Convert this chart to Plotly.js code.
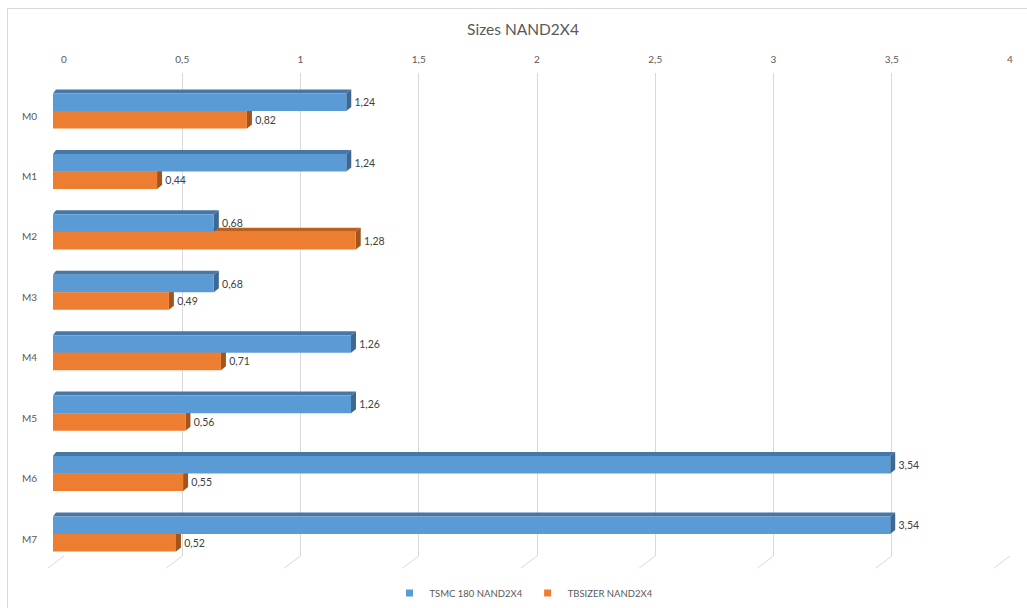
<!DOCTYPE html>
<html>
<head>
<meta charset="utf-8">
<script src="https://cdn.plot.ly/plotly-3.0.1.min.js"></script>
<style>
  html, body { margin: 0; padding: 0; background: #ffffff; }
  #chart { width: 1027px; height: 608px; }
</style>
</head>
<body>
<div id="chart"></div>
<script>
// Transistor sizes for the NAND2X4 cell
const categories = ['M0', 'M1', 'M2', 'M3', 'M4', 'M5', 'M6', 'M7'];
const tsmcSizes = [1.24, 1.24, 0.68, 0.68, 1.26, 1.26, 3.54, 3.54];
const tbsizerSizes = [0.82, 0.44, 1.28, 0.49, 0.71, 0.56, 0.55, 0.52];
const seriesNames = ['TSMC 180 NAND2X4', 'TBSIZER NAND2X4'];
const xTicks = [0, 0.5, 1, 1.5, 2, 2.5, 3, 3.5, 4];

// Colours: front face, top face, end face
const palette = [
  { front: '#5B9BD5', top: '#4677A6', side: '#3C6892' },
  { front: '#ED7D31', top: '#B9601F', side: '#A3531B' }
];

// Page geometry (px)
const W = 1027, H = 608;
const M = { l: 53, r: 17, t: 73, b: 52, autoexpand: false };
const plotW = W - M.l - M.r;
const plotH = H - M.t - M.b;
const depthX = 11;                 // horizontal shift of the back wall
const xMax = 4;
const yRange = [7.364, -0.629];
const barW = 0.29;                 // bar thickness in category units

const pxPerX = (plotW - depthX) / xMax;
const pxPerY = plotH / (yRange[0] - yRange[1]);
const dxR = 5 / pxPerX, dxL = 3 / pxPerX, dy = 4 / pxPerY;
const backStart = depthX / plotW;  // back wall domain start (fraction)

const pos = categories.map((c, i) => i);

// Front bars live on x2 (drawn above the back wall subplot)
function barTrace(vals, k) {
  return {
    type: 'bar', orientation: 'h',
    x: vals, y: pos, name: seriesNames[k],
    xaxis: 'x2', yaxis: 'y',
    marker: { color: palette[k].front, line: { width: 0 } },
    texttemplate: '\u2002%{x:.2f}', textposition: 'outside', cliponaxis: false,
    textfont: { family: 'Lato, sans-serif', size: 10.5, color: '#404040' },
    showlegend: false, hoverinfo: 'skip'
  };
}

function legendKey(k) {
  return {
    type: 'scatter', mode: 'markers', x: [null], y: [null],
    name: seriesNames[k], xaxis: 'x2', yaxis: 'y',
    marker: { symbol: 'square', size: 7, color: palette[k].front }
  };
}

// 3D faces (top and end) of each bar, in data coordinates
function faces(vals, k) {
  const out = [];
  vals.forEach((v, i) => {
    const y0 = k === 0 ? i - barW : i;
    const y1 = y0 + barW;
    const t = y0 - dy;
    out.push({
      type: 'path', xref: 'x2', yref: 'y', layer: 'between',
      path: `M0,${y0} L${v},${y0} L${v + dxR},${t} L${dxL},${t} Z`,
      fillcolor: palette[k].top, line: { width: 0 }
    });
    out.push({
      type: 'path', xref: 'x2', yref: 'y', layer: 'between',
      path: `M${v},${y0} L${v + dxR},${t} L${v + dxR},${y1 - dy} L${v},${y1} Z`,
      fillcolor: palette[k].side, line: { width: 0 }
    });
  });
  return out;
}

// Floor edges under each gridline of the back wall
const floorLines = xTicks.map(v => ({
  type: 'path', xref: 'paper', yref: 'paper',
  xsizemode: 'pixel', xanchor: backStart + (v / xMax) * (1 - backStart),
  ysizemode: 'pixel', yanchor: 0,
  path: 'M0,0 L-16,-12', line: { color: '#d9d9d9', width: 1 }, layer: 'below'
}));

// Chart frame
const px2x = p => (p - M.l) / plotW;
const px2y = p => (H - M.b - p) / plotH;
const frame = [
  { type: 'line', xref: 'paper', yref: 'paper', x0: px2x(7.5), x1: px2x(7.5), y0: px2y(8.5), y1: px2y(H + 2),
    line: { color: '#d9d9d9', width: 1 } },
  { type: 'line', xref: 'paper', yref: 'paper', x0: px2x(7), x1: px2x(W + 2), y0: px2y(8.5), y1: px2y(8.5),
    line: { color: '#d9d9d9', width: 1 } }
];

const data = [
  // back wall axis carries the ticks and gridlines
  { type: 'scatter', x: [null], y: [null], xaxis: 'x', yaxis: 'y', showlegend: false, hoverinfo: 'skip' },
  barTrace(tsmcSizes, 0), barTrace(tbsizerSizes, 1),
  legendKey(0), legendKey(1)
];

const axisFont = { family: 'Lato, sans-serif', size: 10, color: '#595959' };

const layout = {
  width: W, height: H,
  margin: M,
  paper_bgcolor: '#ffffff', plot_bgcolor: 'rgba(0,0,0,0)',
  separators: ',.',
  font: { family: 'Lato, sans-serif', color: '#595959' },
  title: {
    text: 'Sizes NAND2X4', x: 523 / W, xanchor: 'center', xref: 'container',
    y: 1 - 30 / H, yanchor: 'middle', yref: 'container',
    font: { family: 'Lato, sans-serif', size: 15.5, color: '#595959' }
  },
  barmode: 'group', bargap: 1 - 2 * barW, bargroupgap: 0,
  xaxis: {
    domain: [backStart, 1], range: [0, xMax], side: 'top', anchor: 'y',
    tickvals: xTicks, showgrid: true, gridcolor: '#d9d9d9', gridwidth: 1,
    zeroline: false, showline: false, ticks: '', tickfont: axisFont,
    ticklabelstandoff: 7
  },
  xaxis2: {
    domain: [0, 1 - backStart], range: [0, xMax], anchor: 'y',
    showgrid: false, zeroline: false, showticklabels: false, showline: false, ticks: ''
  },
  yaxis: {
    range: yRange, tickvals: pos, ticktext: categories, anchor: 'x',
    showgrid: false, zeroline: false, showline: false, ticks: '',
    tickfont: axisFont, ticklabelstandoff: 26, ticklabelshift: -5
  },
  legend: {
    orientation: 'h', x: px2x(524), xanchor: 'center', y: px2y(593), yanchor: 'middle',
    font: { family: 'Lato, sans-serif', size: 9.5, color: '#595959' },
    itemwidth: 30, bgcolor: 'rgba(0,0,0,0)'
  },
  shapes: [...frame, ...floorLines, ...faces(tbsizerSizes, 1), ...faces(tsmcSizes, 0)]
};

Plotly.newPlot('chart', data, layout, { displayModeBar: false, staticPlot: true });
</script>
</body>
</html>
